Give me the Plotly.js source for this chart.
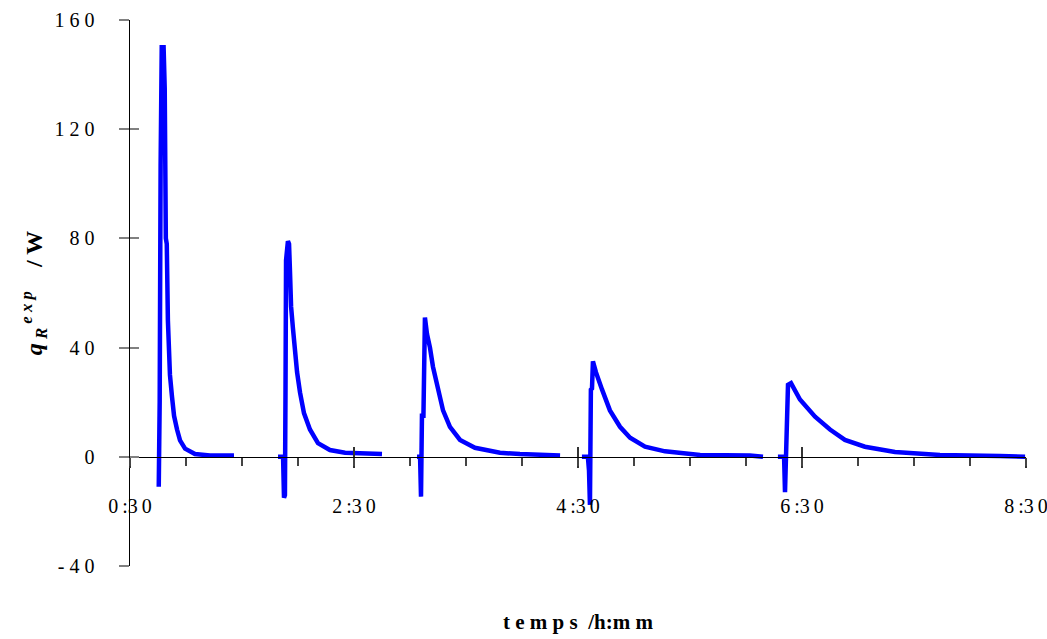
<!DOCTYPE html>
<html>
<head>
<meta charset="utf-8">
<script src="https://cdn.plot.ly/plotly-3.0.1.min.js"></script>
<style>html,body{margin:0;padding:0;background:#fff;}#chart{width:1047px;height:639px;}</style>
</head>
<body>
<div id="chart"></div>
<script>
// time in minutes since 0:00, heat flow q_R^exp in W
const t1 = [45.4, 45.9, 46.4, 47.0, 48.0, 48.6, 49.2, 49.7, 50.3, 51.4, 52.5, 53.6, 55.2, 56.8, 59.5, 62.1, 64.8, 72.9, 85.7];
const q1 = [-11, 20, 107, 150, 150, 135, 80, 78, 50, 30, 22, 15, 10, 6, 3, 2, 1, 0.5, 0.5];
const t2 = [109.3, 112.0, 112.5, 113.0, 113.3, 113.6, 114.6, 115.2, 115.7, 116.3, 117.3, 118.4, 119.5, 121.1, 123.2, 126.4, 130.7, 137.1, 145.2, 165.0];
const q2 = [0, 0, -15, -14, 23, 72, 79, 78, 68, 55, 47, 38, 31, 23.5, 16, 10, 5, 2.5, 1.5, 1];
const t3 = [183.75, 185.4, 185.9, 186.4, 187.2, 187.5, 188.0, 189.1, 190.7, 192.3, 195.0, 197.7, 201.4, 206.8, 214.8, 228.2, 238.9, 260.4];
const q3 = [0, 0, -14.6, 15, 15, 48, 51, 45, 40, 33, 24.6, 17, 11, 6.2, 3.3, 1.5, 1, 0.5];
const t4 = [272.1, 275.3, 275.9, 276.4, 276.9, 277.5, 278.0, 279.6, 282.9, 287.1, 292.5, 297.9, 305.9, 316.6, 335.4, 362.1, 369.1];
const q4 = [0, 0, -5, -17.6, 24.6, 25, 35, 31, 24.6, 17, 11, 7, 3.7, 2, 0.7, 0.5, 0];
const t5 = [377.1, 380.4, 380.9, 381.4, 382.5, 384.1, 388.9, 397.0, 405.0, 413.0, 423.7, 439.8, 463.9, 496.1, 509.5];
const q5 = [0, 0, -13, 4.4, 26.4, 27, 21, 14.7, 10, 6.2, 3.7, 1.8, 0.7, 0.3, 0];

const xTickVals = [30, 150, 270, 390, 510];
const xTickText = ['0\u2009:3\u20090', '2\u2009:3\u20090', '4\u2009:3\u20090', '6\u2009:3\u20090', '8\u2009:3\u20090'];
const xMinorStep = 30;
const yTickVals = [-40, 0, 40, 80, 120, 160];
const yTickText = ['- 4 0', '0', '4 0', '8 0', '1 2 0', '1 6 0'];

const xRange = [30, 510];
const yRange = [-40, 160];

const tickFont = {family: 'Liberation Serif', size: 20, color: '#000'};

const cycles = [[t1, q1], [t2, q2], [t3, q3], [t4, q4], [t5, q5]];
const traces = cycles.map(([t, q]) => ({
  x: t, y: q, type: 'scatter', mode: 'lines',
  line: {color: '#0000FF', width: 4.5},
  xaxis: 'x', yaxis: 'y', showlegend: false, hoverinfo: 'x+y'
}));

const layout = {
  width: 1047, height: 639,
  margin: {l: 130, r: 21, t: 20, b: 73},
  paper_bgcolor: '#fff', plot_bgcolor: '#fff',
  showlegend: false,
  xaxis: {
    range: xRange, anchor: 'free', position: 0.2,
    showline: true, linecolor: '#000', linewidth: 1.5,
    showgrid: false, zeroline: false,
    tickmode: 'array', tickvals: xTickVals, ticktext: xTickText,
    ticks: 'outside', ticklen: 10, tickwidth: 1.5, tickcolor: '#333',
    ticklabelstandoff: 21,
    ticklabeloverflow: 'allow',
    tickfont: tickFont
  },
  xaxis2: {
    range: xRange, overlaying: 'x', anchor: 'free', position: 0.2,
    showline: false, showgrid: false, zeroline: false,
    tickmode: 'array', tickvals: xTickVals, ticks: 'inside', ticklen: 10, tickwidth: 1.5, tickcolor: '#333',
    showticklabels: false
  },
  xaxis3: {
    range: xRange, overlaying: 'x', anchor: 'y', side: 'bottom',
    showline: false, showgrid: false, zeroline: false, ticks: '', showticklabels: false,
    title: {text: '<b>t e m p s  /h:m m</b>', font: {family: 'Liberation Serif', size: 21, color: '#000'}, standoff: 48}
  },
  xaxis4: {
    range: xRange, overlaying: 'x', anchor: 'free', position: 0.2,
    showline: false, showgrid: false, zeroline: false,
    tickmode: 'linear', tick0: 0, dtick: xMinorStep, ticks: 'outside', ticklen: 8, tickwidth: 1.2, tickcolor: '#444',
    showticklabels: false
  },
  yaxis: {
    range: yRange, showline: true, linecolor: '#000', linewidth: 1.5,
    showgrid: false, zeroline: false,
    tickmode: 'array', tickvals: yTickVals, ticktext: yTickText,
    ticks: 'outside', ticklen: 10, tickwidth: 2, tickcolor: '#808080',
    ticklabelstandoff: 20,
    tickfont: tickFont,
    title: {text: '<b><i>q</i><sub><i> R</i></sub><sup><i> e x p</i></sup>    / W</b>', font: {family: 'Liberation Serif', size: 24, color: '#000'}, standoff: 5}
  },
  yaxis2: {
    range: yRange, overlaying: 'y', anchor: 'x', side: 'left',
    showline: false, showgrid: false, zeroline: false,
    tickmode: 'array', tickvals: yTickVals, ticks: 'inside', ticklen: 9, tickwidth: 2, tickcolor: '#808080',
    showticklabels: false
  }
};

// helper traces to activate overlay axes (no visible marks)
traces.push({x: [], y: [], xaxis: 'x2', yaxis: 'y2', type: 'scatter', mode: 'lines', showlegend: false, hoverinfo: 'skip'});
traces.push({x: [], y: [], xaxis: 'x3', yaxis: 'y', type: 'scatter', mode: 'lines', showlegend: false, hoverinfo: 'skip'});
traces.push({x: [], y: [], xaxis: 'x4', yaxis: 'y', type: 'scatter', mode: 'lines', showlegend: false, hoverinfo: 'skip'});

Plotly.newPlot('chart', traces, layout, {staticPlot: true});
</script>
</body>
</html>
